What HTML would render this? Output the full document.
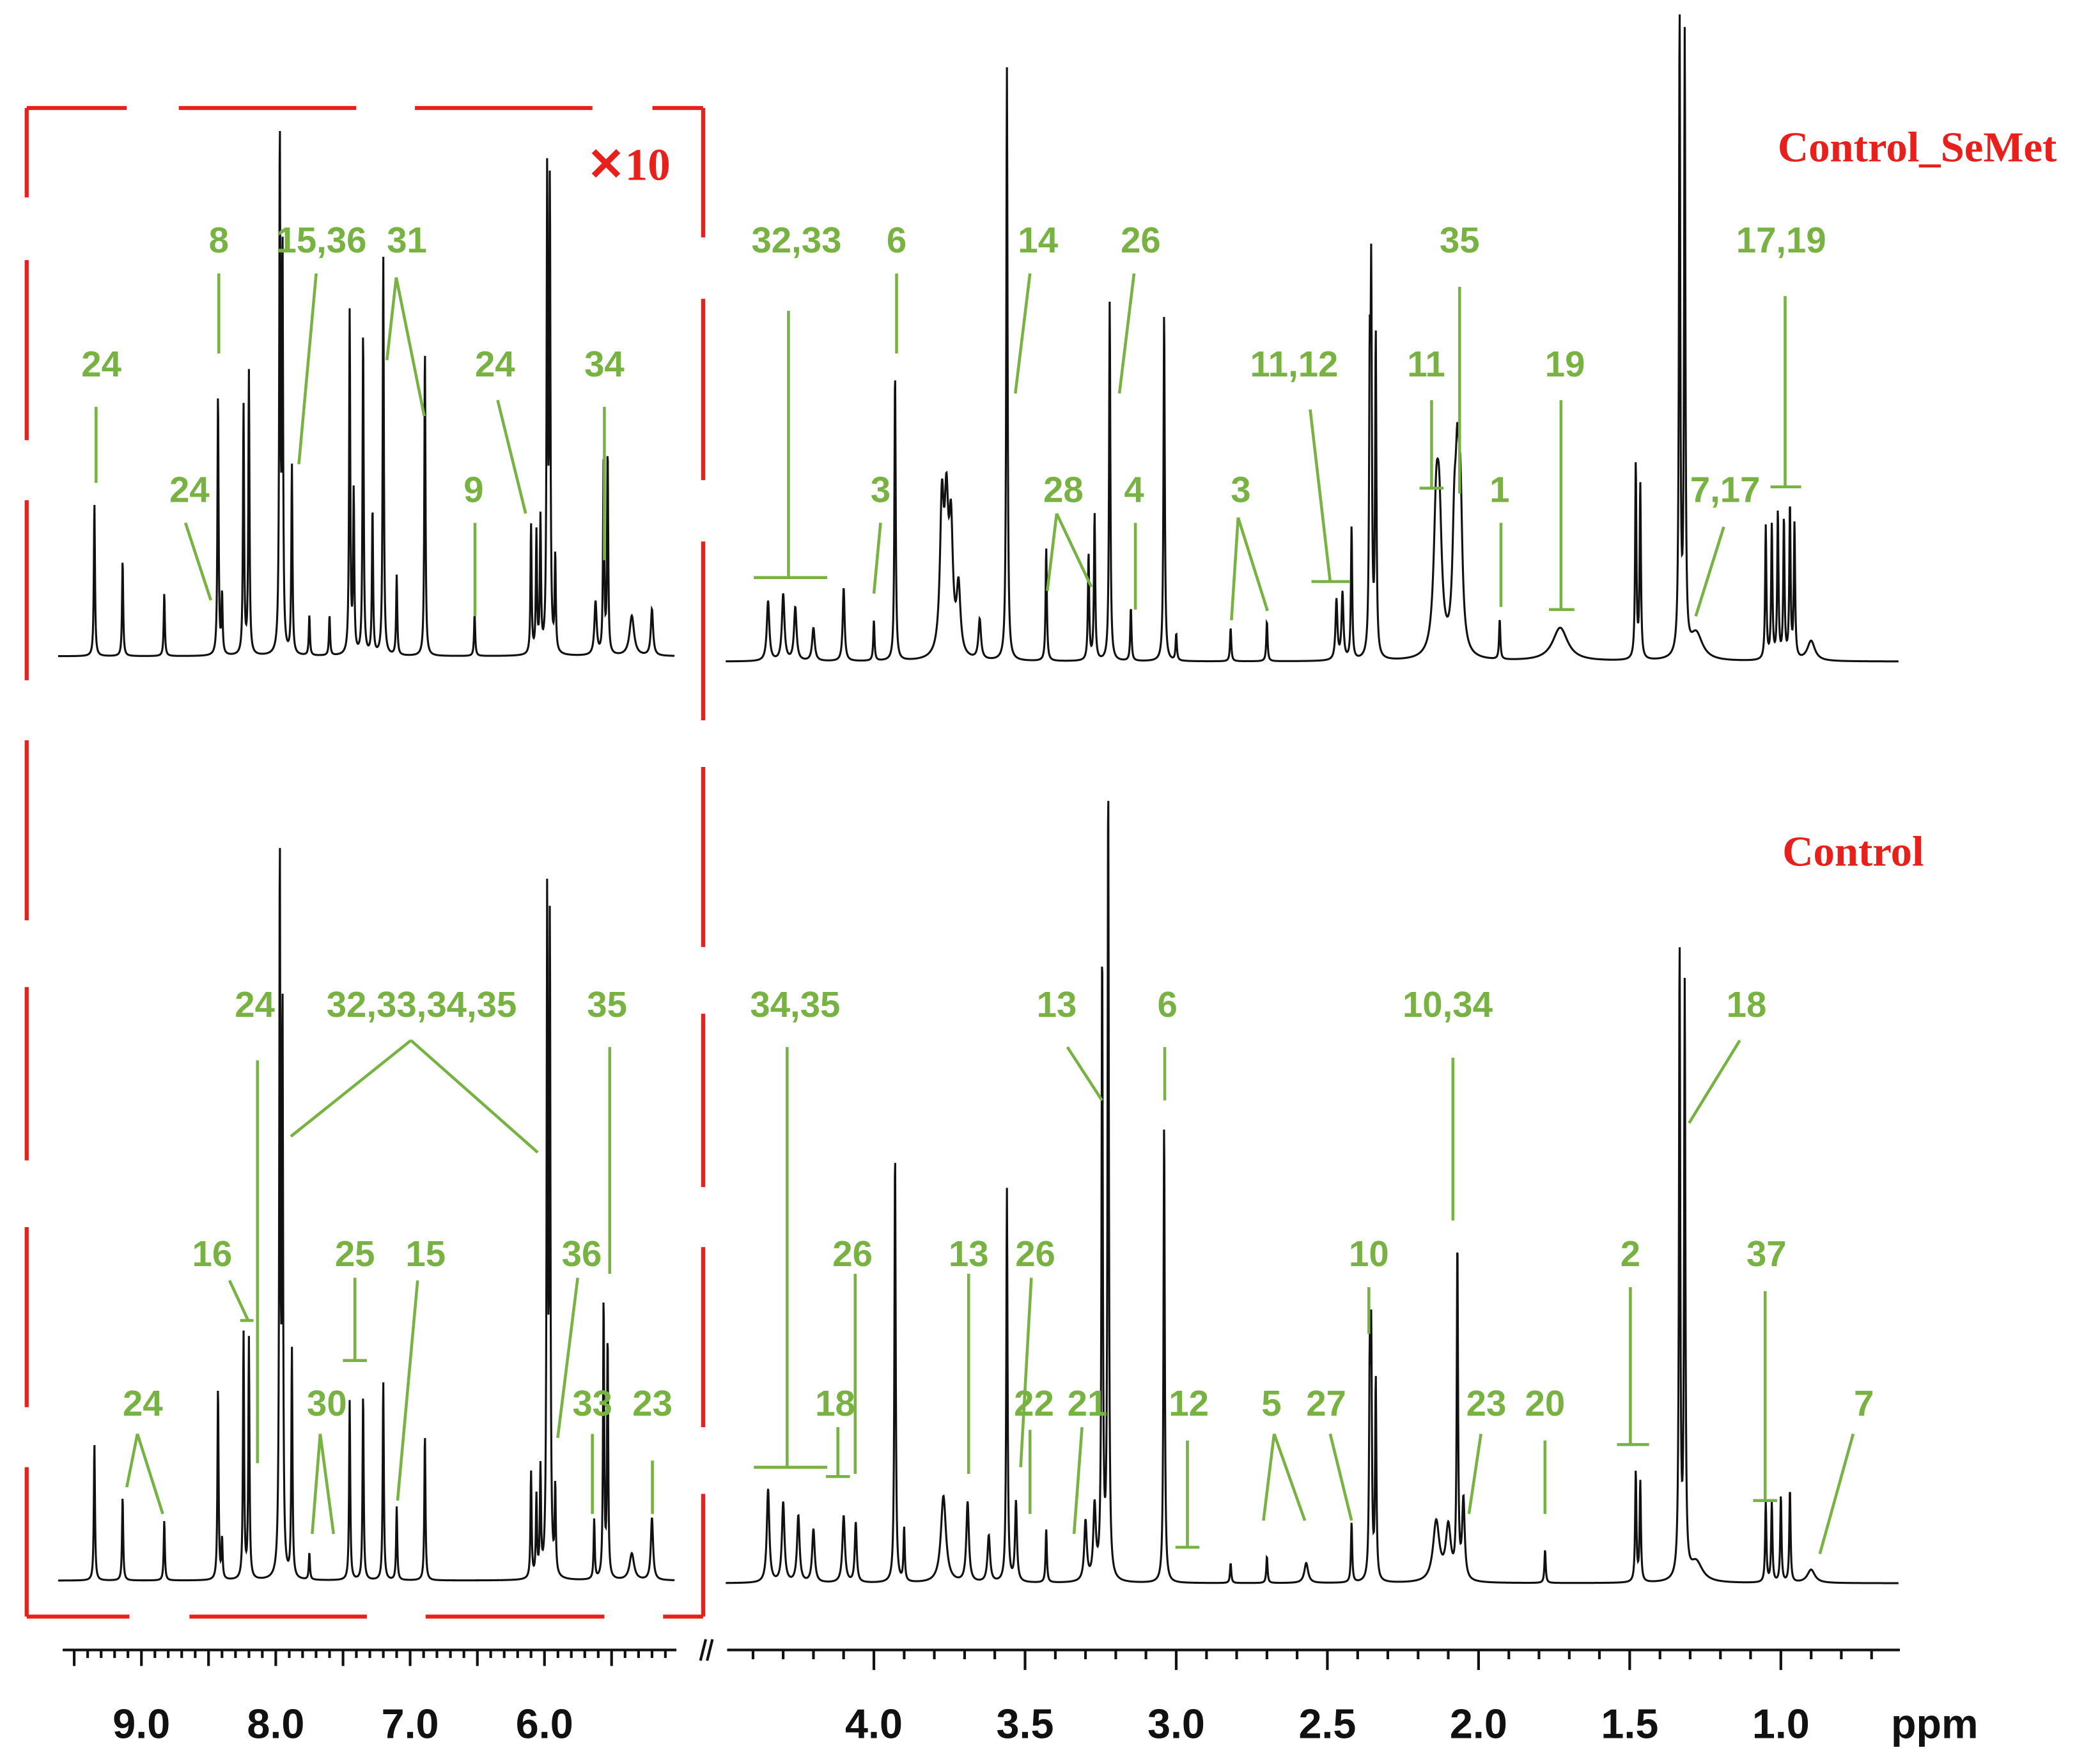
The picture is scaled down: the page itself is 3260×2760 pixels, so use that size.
<!DOCTYPE html>
<html><head><meta charset="utf-8">
<style>
html,body{margin:0;padding:0;background:#fff;}
svg{display:block;}
.lab{font-family:"Liberation Sans",sans-serif;font-weight:bold;font-size:27px;fill:#77b243;text-anchor:middle;dominant-baseline:central;}
.ld{stroke:#77b243;stroke-width:2.2;fill:none;}
.tick{font-family:"Liberation Sans",sans-serif;font-weight:bold;font-size:31px;fill:#111;text-anchor:middle;}
.red{font-family:"Liberation Serif",serif;font-weight:bold;fill:#e8201c;}
</style></head>
<body>
<svg id="chart" width="3260" height="2760" viewBox="0 0 1562 1322.5" preserveAspectRatio="none" xmlns="http://www.w3.org/2000/svg">
<rect width="1562" height="1322.5" fill="#fff"/>
<g id="box" stroke="#e8201c" stroke-width="3" fill="none">
<path d="M20 81H95M134 81H267M311 81H444M489 81H527"/>
<path d="M20 1212H97M142 1212H275M319 1212H453M497 1212H527"/>
<path d="M20 81V148M20 195V330M20 375V510M20 555V690M20 740V870M20 920V1055M20 1100V1212"/>
<path d="M527 81V178M527 224V360M527 406V540M527 575V710M527 760V890M527 935V1070M527 1120V1212"/>
</g>
<text class="red" x="440" y="135" font-size="34">✕10</text>
<text class="red" x="1437" y="121" font-size="32" text-anchor="middle">Control_SeMet</text>
<text class="red" x="1389" y="649" font-size="32" text-anchor="middle">Control</text>
<g id="spectra"></g>
<g id="axis"></g>
<g id="labels"></g>
</svg>
<script>
// ---- data: peak positions (ppm), intensities (a.u.), linewidth factors ----
const topLeftPpm = [9.35,9.14,8.83,8.43,8.40,8.24,8.20,7.97,7.95,7.88,7.75,7.60,7.45,7.42,7.35,7.28,7.20,7.10,6.89,6.52,6.10,6.06,6.03,5.98,5.96,5.92,5.62,5.56,5.53,5.35,5.20];
const topLeftInt = [115,72,47,197,45,187,212,387,300,142,30,30,257,120,244,110,302,60,232,32,97,90,100,355,345,72,40,147,152,30,35];
const topLeftW   = [1,1,1,1,1,1,1,1,1,1,1,1,1,1,1,1,1,1,1,1,1,1,1,1,1,1,2,1,1,4,2];
const botLeftPpm = [9.35,9.14,8.83,8.43,8.40,8.24,8.20,7.97,7.95,7.88,7.75,7.45,7.35,7.20,7.10,6.89,6.10,6.06,6.03,5.98,5.96,5.92,5.63,5.56,5.53,5.35,5.20];
const botLeftInt = [103,63,45,145,30,185,180,540,420,172,20,135,140,150,55,110,80,60,80,502,480,65,45,210,180,20,47];
const botLeftW   = [1,1,1,1,1,1,1,1,1,1,1,1,1,1,1,1,1,1,1,1,1,1,1,1,1,4,2];
const topRightPpm = [4.35,4.30,4.26,4.20,4.10,4.00,3.93,3.775,3.76,3.745,3.72,3.65,3.56,3.43,3.29,3.27,3.22,3.15,3.04,3.00,2.82,2.70,2.47,2.45,2.42,2.36,2.355,2.34,2.14,2.13,2.08,2.07,2.06,1.93,1.73,1.48,1.465,1.335,1.318,1.28,1.05,1.03,1.01,0.99,0.97,0.955,0.90];
const topRightInt = [45,50,40,25,55,30,217,110,100,90,50,30,445,85,80,110,270,40,262,20,25,30,45,50,100,200,265,240,95,90,80,110,100,30,25,147,130,480,460,20,100,100,110,105,115,100,15];
const topRightW   = [2,2,2,2,1.5,1,1,3,3,3,3,2,1,1,1,1,1,1,1,1,1,1,1.5,1.5,1,1,1,1,4,4,3,3,3,1,12,1,1,1,1,10,1,1,1,1,1,1,6];
const botRightPpm = [4.35,4.30,4.25,4.20,4.10,4.06,3.93,3.90,3.77,3.69,3.62,3.56,3.53,3.43,3.30,3.27,3.245,3.225,3.04,2.82,2.70,2.57,2.42,2.36,2.355,2.34,2.14,2.10,2.07,2.05,1.78,1.48,1.465,1.335,1.318,1.28,1.05,1.03,1.00,0.97,0.90];
const botRightInt = [70,60,50,40,50,45,325,40,65,60,35,295,60,40,45,55,470,597,345,15,20,15,45,150,170,150,45,40,250,60,25,83,75,473,440,15,60,60,65,70,10];
const botRightW   = [2,2,2,2,2,1.5,1,1,4,2,2,1,1.5,1,2,2,1,1,1,1,1,3,1,1,1,1,5,4,1,2,1,1,1,1,1,10,1,1,1,1,6];

// ---- axis functions ----
const xLeft = p => 106 + (9 - p) * 100.7;
const xRight = p => 655 + (4 - p) * 226.6;
const NS = "http://www.w3.org/2000/svg";
const spec = document.getElementById('spectra');

function drawSpectrum(ppm, ints, widths, xf, pMin, pMax, base, gamma, name) {
  const x0 = xf(pMax), x1 = xf(pMin);
  const k = (pMax - pMin) / (x1 - x0);
  let d = '';
  for (let x = x0; x <= x1; x += 0.25) {
    const p = pMax - (x - x0) * k;
    let s = 0;
    for (let i = 0; i < ppm.length; i++) {
      const dd = p - ppm[i];
      const g = gamma * (widths[i] || 1);
      s += ints[i] * g * g / (g * g + dd * dd);
    }
    d += (d ? 'L' : 'M') + x.toFixed(2) + ' ' + (base - s).toFixed(2);
  }
  const path = document.createElementNS(NS, 'path');
  path.setAttribute('d', d);
  path.setAttribute('stroke', '#111');
  path.setAttribute('stroke-width', '1.5');
  path.setAttribute('fill', 'none');
  
  
  spec.appendChild(path);
}
drawSpectrum(topLeftPpm, topLeftInt, topLeftW, xLeft, 5.03, 9.62, 492, 0.005, 'semet-aromatic-spectrum');
drawSpectrum(botLeftPpm, botLeftInt, botLeftW, xLeft, 5.03, 9.62, 1185, 0.005, 'control-aromatic-spectrum');
drawSpectrum(topRightPpm, topRightInt, topRightW, xRight, 0.61, 4.49, 496, 0.0025, 'semet-aliphatic-spectrum');
drawSpectrum(botRightPpm, botRightInt, botRightW, xRight, 0.61, 4.49, 1187, 0.0025, 'control-aliphatic-spectrum');

// ---- axis ----
const ax = document.getElementById('axis');
const leftTicks = ['9.0','8.0','7.0','6.0'];
const rightTicks = ['4.0','3.5','3.0','2.5','2.0','1.5','1.0'];
let ad = 'M47 1237H507M545 1237H1424';
for (let i = 0; i <= 45; i++) { const p = 9.5 - i * 0.1; const x = xLeft(p); if (x < 47 || x > 507) continue; ad += 'M' + x.toFixed(1) + ' 1237V' + (i % 5 === 0 ? 1249 : 1243); }
for (let i = 0; i <= 40; i++) { const p = 4.4 - i * 0.1; const x = xRight(p); if (x < 545 || x > 1424) continue; ad += 'M' + x.toFixed(1) + ' 1237V' + (Math.abs(p*2 - Math.round(p*2)) < 0.01 ? 1252 : 1244); }
ad += 'M525 1245L529 1229M530 1245L534 1229';
const axp = document.createElementNS(NS, 'path');
axp.setAttribute('d', ad); axp.setAttribute('stroke', '#111'); axp.setAttribute('stroke-width', '2'); axp.setAttribute('fill', 'none');


ax.appendChild(axp);
function tickLabel(t, x, name) {
  const el = document.createElementNS(NS, 'text');
  el.setAttribute('class', 'tick'); el.setAttribute('x', x); el.setAttribute('y', 1303); el.textContent = t;
  
  
  ax.appendChild(el);
}
leftTicks.forEach(t => tickLabel(t, xLeft(parseFloat(t)), 'tick-label'));
rightTicks.forEach(t => tickLabel(t, xRight(parseFloat(t)), 'tick-label'));
tickLabel('ppm', 1450, 'x-axis-unit');

// ---- annotations ----
const L = document.getElementById('labels');
const anns = [
 ['24',76,273,'M72 305V362'],['8',164,180,'M164 205V265'],['15,36',241,180,'M237 205L224 348'],
 ['31',305,180,'M297 208L290 270M297 208L318 312'],['24',142,367,'M139 392L158 450'],['9',355,367,'M356 392V462'],
 ['24',371,273,'M373 300L394 385'],['34',453,273,'M453 305V420'],
 ['32,33',597,180,'M591 233V433M565 433H620'],['6',672,180,'M672 205V265'],['14',778,180,'M772 205L761 295'],
 ['26',855,180,'M850 205L839 295'],['3',660,367,'M660 392L655 445'],['28',797,367,'M792 385L785 443M792 385L818 440'],
 ['4',850,367,'M851 392V457'],['3',930,367,'M928 388L923 465M928 388L950 458'],['11,12',970,273,'M982 307L997 436M983 436H1012'],
 ['11',1069,273,'M1073 300V366M1064 366H1082'],['35',1094,180,'M1094 215V370'],['1',1124,367,'M1125 392V455'],
 ['19',1173,273,'M1170 300V457M1161 457H1180'],['17,19',1335,180,'M1338 222V365M1327 365H1350'],['7,17',1293,367,'M1292 395L1271 462'],
 ['24',191,753,'M193 795V1097'],['32,33,34,35',316,753,'M308 780L218 852M308 780L403 864'],['35',455,753,'M457 785V955'],
 ['16',159,940,'M172 960L186 990M180 990H190'],['25',266,940,'M266 958V1020M257 1020H275'],['15',319,940,'M313 960L298 1125'],
 ['36',436,940,'M433 958L418 1078'],['24',107,1052,'M103 1075L95 1115M103 1075L122 1135'],['30',245,1052,'M240 1075L234 1150M240 1075L250 1150'],
 ['33',444,1052,'M444 1075V1135'],['23',489,1052,'M489 1095V1135'],
 ['34,35',596,753,'M590 785V1100M565 1100H620'],['26',639,940,'M641 955V1105'],['18',626,1052,'M628 1070V1107M619 1107H637'],
 ['13',726,940,'M726 955V1105'],['26',776,940,'M773 958L765 1100'],['22',775,1052,'M772 1072V1135'],['21',815,1052,'M811 1070L805 1150'],
 ['13',792,753,'M800 785L826 825'],['6',875,753,'M873 785V825'],['12',891,1052,'M890 1080V1160M881 1160H899'],
 ['5',953,1052,'M955 1075L947 1140M955 1075L978 1140'],['27',994,1052,'M997 1075L1013 1140'],['10',1026,940,'M1026 965V1000'],
 ['10,34',1085,753,'M1089 793V915'],['23',1114,1052,'M1110 1075L1101 1135'],['20',1158,1052,'M1158 1080V1135'],
 ['2',1222,940,'M1222 965V1083M1212 1083H1236'],['18',1309,753,'M1304 780L1266 842'],['37',1324,940,'M1323 968V1125M1314 1125H1332'],
 ['7',1397,1052,'M1389 1075L1364 1165']
];
anns.forEach(a => {
  const t = document.createElementNS(NS, 'text');
  t.setAttribute('class', 'lab'); t.setAttribute('x', a[1]); t.setAttribute('y', a[2]); t.textContent = a[0];
  
  
  L.appendChild(t);
  const p = document.createElementNS(NS, 'path');
  p.setAttribute('class', 'ld'); p.setAttribute('d', a[3]);
  
  
  L.appendChild(p);
});
</script>
</body></html>
